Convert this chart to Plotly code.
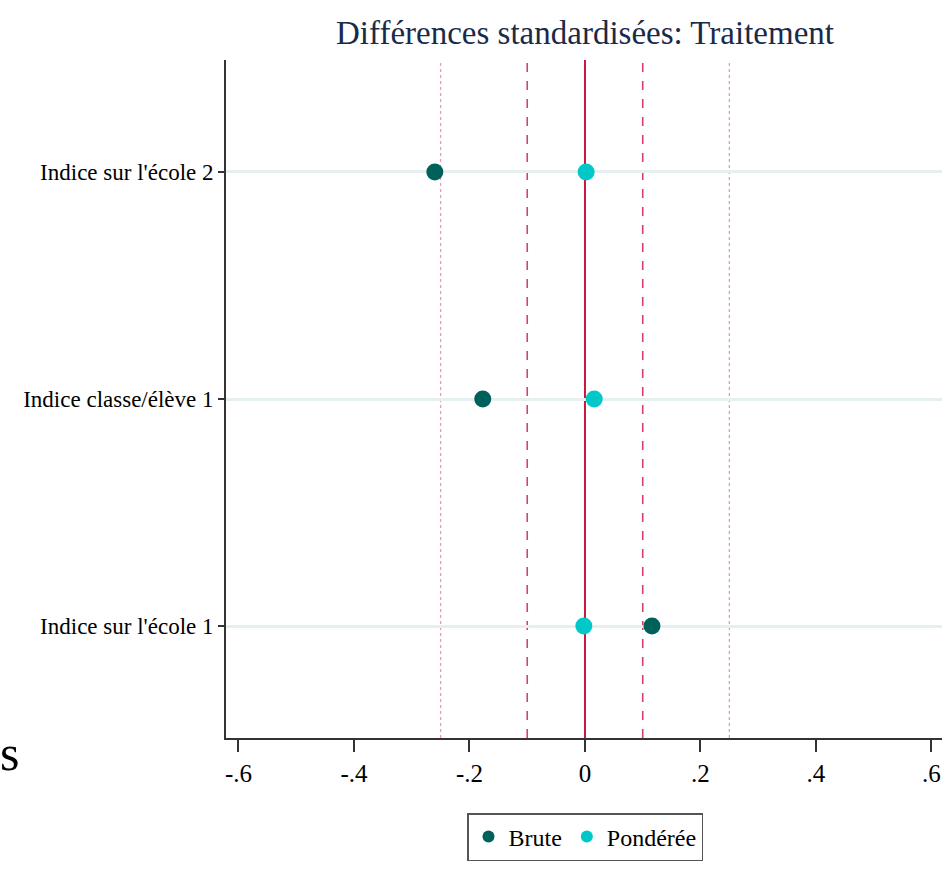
import plotly.graph_objects as go

# Covariates (bottom to top) and standardized differences
variables = ["Indice sur l'école 1", "Indice classe/élève 1", "Indice sur l'école 2"]
brute = [0.116, -0.177, -0.260]
ponderee = [-0.002, 0.016, 0.002]

x_ticks = [-0.6, -0.4, -0.2, 0, 0.2, 0.4, 0.6]
x_tick_text = ["-.6", "-.4", "-.2", "0", ".2", ".4", ".6"]

ref_solid = [0]
ref_dashed = [-0.1, 0.1]
ref_dotted = [-0.25, 0.25]

FONT = "Liberation Serif"

fig = go.Figure()

fig.add_trace(go.Scatter(
    x=brute, y=variables, mode="markers", name="Brute",
    marker=dict(color="#00615b", size=17, line=dict(width=0)),
))
fig.add_trace(go.Scatter(
    x=ponderee, y=variables, mode="markers", name="Pondérée",
    marker=dict(color="#00c8c8", size=17, line=dict(width=0)),
))

for v in ref_solid:
    fig.add_vline(x=v, line=dict(color="#c8183e", width=2), layer="below")
for v in ref_dashed:
    fig.add_vline(x=v, line=dict(color="#d84068", width=1.6, dash="dash"), layer="below")
for v in ref_dotted:
    fig.add_vline(x=v, line=dict(color="#ec98b0", width=1.3, dash="dot"), layer="below")

fig.add_annotation(
    text="s", xref="paper", yref="paper", x=-0.318, y=-0.022,
    xanchor="left", yanchor="middle", showarrow=False,
    font=dict(family=FONT, size=50, color="#000000"),
)

fig.update_layout(
    width=942, height=869,
    margin=dict(l=226, r=0, t=60, b=131),
    paper_bgcolor="white", plot_bgcolor="white",
    title=dict(
        text="Différences standardisées: Traitement",
        x=585 / 942, xanchor="center", y=1 - 32 / 869, yanchor="middle",
        font=dict(family=FONT, size=33, color="#1a2a4a"),
    ),
    showlegend=True,
    legend=dict(
        orientation="h", x=(585 - 226) / 716, xanchor="center",
        y=-(813 - 738) / 678, yanchor="top",
        bordercolor="#555555", borderwidth=1.5,
        font=dict(family=FONT, size=24, color="#000000"),
        itemsizing="constant", itemwidth=30,
    ),
    font=dict(family=FONT, color="#000000"),
)

fig.update_xaxes(
    range=[-0.6216, 0.6182], tickvals=x_ticks, ticktext=x_tick_text,
    showgrid=False, zeroline=False,
    showline=True, linecolor="#333333", linewidth=1.8,
    ticks="outside", ticklen=12, tickwidth=1.5, tickcolor="#333333",
    tickfont=dict(family=FONT, size=25, color="#000000"),
)
fig.update_yaxes(
    type="category", categoryorder="array", categoryarray=variables,
    range=[-0.493, 2.493],
    showgrid=True, gridcolor="#e6f0f1", gridwidth=2.5,
    zeroline=False,
    showline=True, linecolor="#333333", linewidth=1.8,
    ticks="outside", ticklen=6, tickwidth=1.5, tickcolor="#333333",
    tickfont=dict(family=FONT, size=23, color="#000000"),
)

fig.write_html("out.html")
